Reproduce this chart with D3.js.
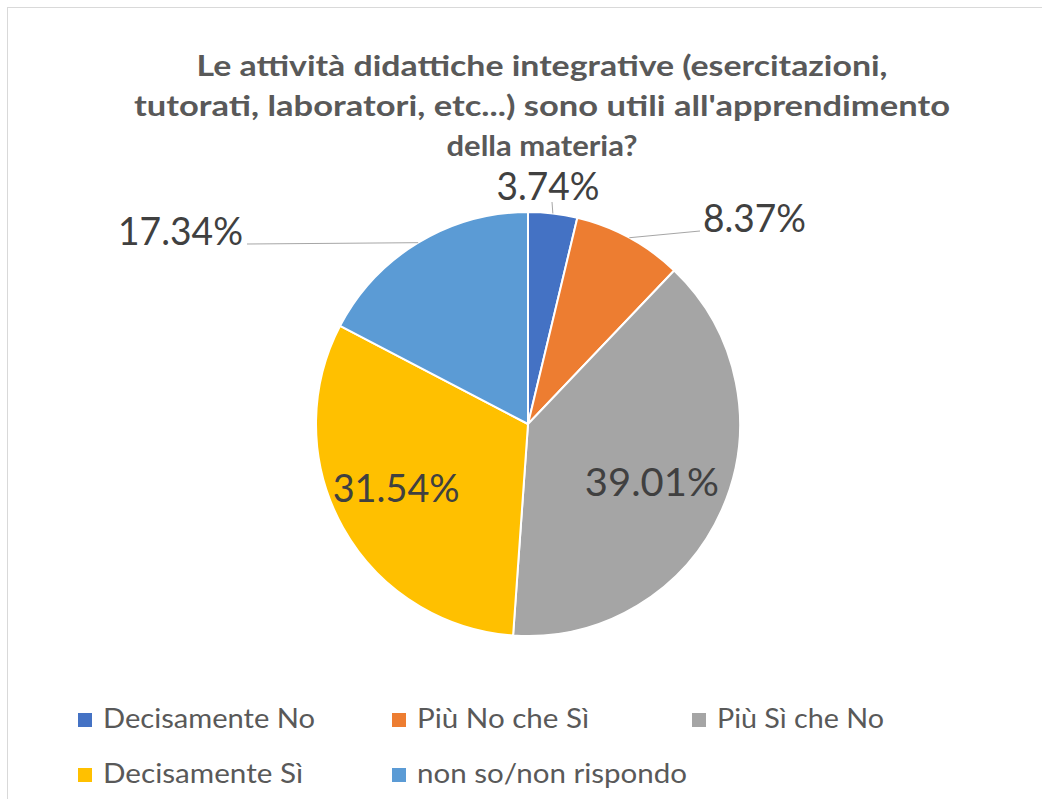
<!DOCTYPE html>
<html lang="it">
<head>
<meta charset="utf-8">
<title>Attività didattiche integrative</title>
<script src="https://d3js.org/d3.v7.min.js"></script>
<style>
  html, body { margin: 0; padding: 0; background: #fff; }
  svg { display: block; }
</style>
</head>
<body>
<div id="chart"></div>
<script>
// data
var categories = ["Decisamente No", "Più No che Sì", "Più Sì che No", "Decisamente Sì", "non so/non rispondo"];
var values = [3.74, 8.37, 39.01, 31.54, 17.34];
var colors = ["#4472C4", "#ED7D31", "#A5A5A5", "#FFC000", "#5B9BD5"];
var titleLines = [
  "Le attività didattiche integrative (esercitazioni,",
  "tutorati, laboratori, etc...) sono utili all'apprendimento",
  "della materia?"
];

var width = 1042, height = 799;
var cx = 528, cy = 424, radius = 212;

var svg = d3.select("#chart").append("svg")
  .attr("width", width)
  .attr("height", height);

// chart area border (runs off the right and bottom of the frame)
svg.append("rect")
  .attr("x", 7.5).attr("y", 7.5)
  .attr("width", 1100).attr("height", 900)
  .attr("fill", "#fff")
  .attr("stroke", "#d9d9d9");

// title
var titleWidths = [691, 816, 191];
svg.append("g").selectAll("text")
  .data(titleLines)
  .enter().append("text")
  .attr("x", 542)
  .attr("y", function (d, i) { return 76 + i * 40; })
  .attr("text-anchor", "middle")
  .attr("font-family", "Lato, 'Open Sans', sans-serif")
  .attr("font-weight", "bold")
  .attr("font-size", "29px")
  .attr("fill", "#595959")
  .attr("textLength", function (d, i) { return titleWidths[i]; })
  .attr("lengthAdjust", "spacingAndGlyphs")
  .text(function (d) { return d; });

// pie
var pie = d3.pie().sort(null).value(function (d) { return d; });
var arcs = pie(values);
var arc = d3.arc().innerRadius(0).outerRadius(radius);

var g = svg.append("g").attr("transform", "translate(" + cx + "," + cy + ")");

g.selectAll("path")
  .data(arcs)
  .enter().append("path")
  .attr("d", arc)
  .attr("fill", function (d, i) { return colors[i]; })
  .attr("stroke", "#fff")
  .attr("stroke-width", 2);

// data labels: inside ones sit on the centroid of an inner ring,
// outside ones get a leader line from the rim
var innerArc = d3.arc().innerRadius(radius * 0.68).outerRadius(radius * 0.68);
var labelFmt = function (v) { return v.toFixed(2) + "%"; };

// outside label anchors relative to the pie centre (x, baseline y, anchor, line end)
var outside = {
  0: { x: 20, y: -224, anchor: "middle", lx: 24, ly: -222, w: 103 },
  1: { x: 175, y: -192, anchor: "start", lx: 172, ly: -193, w: 103 },
  4: { x: -285, y: -179, anchor: "end", lx: -281, ly: -180, w: 125 }
};
var insideShift = { 2: [-8, 0], 3: [-6, -6] };

var labels = svg.append("g").attr("transform", "translate(" + cx + "," + cy + ")");

arcs.forEach(function (d, i) {
  var txt = labelFmt(values[i]);
  if (outside[i]) {
    var o = outside[i];
    var mid = (d.startAngle + d.endAngle) / 2;
    var rx = Math.sin(mid) * radius, ry = -Math.cos(mid) * radius;
    labels.append("line")
      .attr("x1", rx).attr("y1", ry)
      .attr("x2", o.lx).attr("y2", o.ly)
      .attr("stroke", "#a6a6a6")
      .attr("stroke-width", 1);
    labels.append("text")
      .attr("x", o.x).attr("y", o.y)
      .attr("text-anchor", o.anchor)
      .attr("font-family", "Lato, 'Open Sans', sans-serif")
      .attr("font-size", "38px")
      .attr("fill", "#404040")
      .attr("textLength", o.w)
      .attr("lengthAdjust", "spacingAndGlyphs")
      .text(txt);
  } else {
    var c = innerArc.centroid(d);
    var s = insideShift[i];
    labels.append("text")
      .attr("x", c[0] + s[0]).attr("y", c[1] + s[1] + 14)
      .attr("text-anchor", "middle")
      .attr("font-family", "Lato, 'Open Sans', sans-serif")
      .attr("font-size", "38px")
      .attr("fill", "#404040")
      .attr("textLength", i === 2 ? 134 : 127)
      .attr("lengthAdjust", "spacingAndGlyphs")
      .text(txt);
  }
});

// legend
var legendX = [78, 392, 692];
var legendY = [727, 782];
var legendW = [212, 172, 167, 200, 270];
var legend = svg.append("g").selectAll("g")
  .data(categories)
  .enter().append("g")
  .attr("transform", function (d, i) {
    return "translate(" + legendX[i % 3] + "," + legendY[Math.floor(i / 3)] + ")";
  });

legend.append("rect")
  .attr("x", 0).attr("y", -14)
  .attr("width", 14).attr("height", 14)
  .attr("fill", function (d, i) { return colors[i]; });

legend.append("text")
  .attr("x", 25).attr("y", 1)
  .attr("font-family", "Lato, 'Open Sans', sans-serif")
  .attr("font-size", "27px")
  .attr("fill", "#595959")
  .attr("textLength", function (d, i) { return legendW[i]; })
  .attr("lengthAdjust", "spacingAndGlyphs")
  .text(function (d) { return d; });
</script>
</body>
</html>
